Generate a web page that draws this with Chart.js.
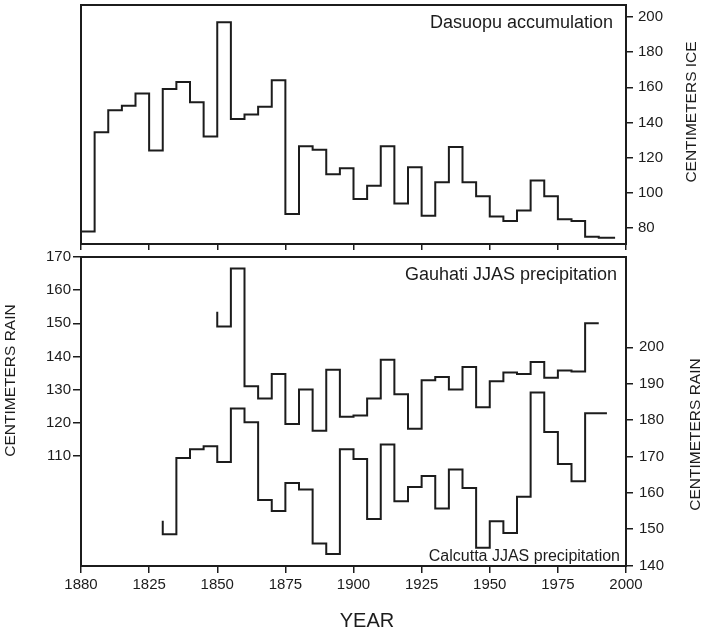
<!DOCTYPE html>
<html>
<head>
<meta charset="utf-8">
<script src="https://cdn.jsdelivr.net/npm/chart.js@4.4.1/dist/chart.umd.min.js"></script>
<style>
  html, body { margin: 0; padding: 0; background: #fff; }
  #wrap { position: relative; width: 703px; height: 632px; }
  #wrap canvas { position: absolute; left: 0; }
  #top { top: 0; }
  #bottom { top: 250px; }
</style>
</head>
<body>
<div id="wrap">
  <canvas id="top" width="703" height="250"></canvas>
  <canvas id="bottom" width="703" height="382"></canvas>
</div>
<script>
'use strict';

// Dasuopu accumulation, 5-year steps (start year of each step, last one closes the line)
var dasuopuYears = [1800, 1805, 1810, 1815, 1820, 1825, 1830, 1835, 1840, 1845,
                    1850, 1855, 1860, 1865, 1870, 1875, 1880, 1885, 1890, 1895,
                    1900, 1905, 1910, 1915, 1920, 1925, 1930, 1935, 1940, 1945,
                    1950, 1955, 1960, 1965, 1970, 1975, 1980, 1985, 1990, 1996];
var dasuopuIce = [78, 134.5, 147, 149.5, 156.5, 124, 159, 163, 151.5, 132,
                  197, 142, 144.5, 149, 164, 88, 126.5, 124.5, 110.5, 114,
                  96.5, 104, 126.5, 94, 114.5, 87, 106, 126, 106, 98,
                  86.5, 84, 90, 107, 98, 85, 84, 75, 74.5, 74.5];

// Gauhati JJAS precipitation (left axis)
var gauhatiYears = [1850, 1850, 1855, 1860, 1865, 1870, 1875, 1880, 1885, 1890,
                    1895, 1900, 1905, 1910, 1915, 1920, 1925, 1930, 1935, 1940,
                    1945, 1950, 1955, 1960, 1965, 1970, 1975, 1980, 1985, 1990];
var gauhatiRain = [153.5, 149, 166.5, 131, 127.3, 134.7, 119.6, 130, 117.6, 136,
                   121.8, 122.2, 127.3, 139, 128.6, 118.2, 132.8, 133.8, 130, 136.8,
                   124.7, 132.5, 135.2, 134.7, 138.3, 133.6, 135.8, 135.5, 150, 150];

// Calcutta JJAS precipitation (right axis)
var calcuttaYears = [1830, 1830, 1835, 1840, 1845, 1850, 1855, 1860, 1865, 1870,
                     1875, 1880, 1885, 1890, 1895, 1900, 1905, 1910, 1915, 1920,
                     1925, 1930, 1935, 1940, 1945, 1950, 1955, 1960, 1965, 1970,
                     1975, 1980, 1985, 1993];
var calcuttaRain = [152.3, 148.6, 169.6, 172, 172.8, 168.5, 183.2, 179.4, 158, 155,
                    162.7, 160.9, 146.1, 143.2, 172, 169.3, 152.8, 173.3, 157.7, 161.6,
                    164.6, 155.7, 166.4, 161.3, 144.9, 152.2, 149, 158.9, 187.6, 176.7,
                    167.9, 163.2, 181.9, 181.9];

var xTickValues = [1800, 1825, 1850, 1875, 1900, 1925, 1950, 1975, 2000];
var xTickLabels = ['1880', '1825', '1850', '1875', '1900', '1925', '1950', '1975', '2000'];
var iceTicks = [80, 100, 120, 140, 160, 180, 200];
var gauhatiTicks = [110, 120, 130, 140, 150, 160, 170];
var calcuttaTicks = [140, 150, 160, 170, 180, 190, 200];

var ink = '#1c1c1c';
var fontFamily = '"Liberation Sans", Arial, Helvetica, sans-serif';
Chart.defaults.font.family = fontFamily;
Chart.defaults.color = ink;

function pairs(xs, ys) {
    return xs.map(function (x, i) { return { x: x, y: ys[i] }; });
}

function setTicks(values) {
    return function (scale) {
        scale.ticks = values.map(function (v) { return { value: v }; });
    };
}

function fixSize(prop, size) {
    return function (scale) {
        scale[prop] = size;
        scale.paddingTop = 0;
        scale.paddingBottom = 0;
        scale.paddingLeft = 0;
        scale.paddingRight = 0;
    };
}

function tickGrid(len) {
    return { drawOnChartArea: false, drawTicks: true, tickLength: len, color: ink, lineWidth: 1.5 };
}

function stepLine(points, axis) {
    return {
        data: points,
        yAxisID: axis,
        stepped: true,
        borderColor: ink,
        borderWidth: 2,
        pointRadius: 0,
        fill: false
    };
}

var framePlugin = {
    id: 'frame',
    afterDatasetsDraw: function (chart) {
        var a = chart.chartArea;
        var ctx = chart.ctx;
        ctx.save();
        ctx.strokeStyle = ink;
        ctx.lineWidth = 2;
        ctx.strokeRect(a.left, a.top, a.right - a.left, a.bottom - a.top);
        ctx.restore();
    }
};

function textPlugin(items) {
    return {
        id: 'texts',
        afterDraw: function (chart) {
            var ctx = chart.ctx;
            items.forEach(function (t) {
                ctx.save();
                ctx.font = t.size + 'px ' + fontFamily;
                ctx.fillStyle = ink;
                ctx.textAlign = t.align || 'center';
                ctx.textBaseline = t.baseline || 'middle';
                ctx.translate(t.x, t.y);
                if (t.rotate) ctx.rotate(-Math.PI / 2);
                ctx.fillText(t.text, 0, 0);
                ctx.restore();
            });
        }
    };
}

var baseOptions = {
    responsive: false,
    animation: false,
    events: [],
    plugins: { legend: { display: false }, tooltip: { enabled: false } }
};

// top panel
new Chart(document.getElementById('top'), {
    type: 'line',
    data: { datasets: [stepLine(pairs(dasuopuYears, dasuopuIce), 'y')] },
    options: Object.assign({}, baseOptions, {
        layout: { padding: { left: 81, top: 5, right: 0, bottom: 0 } },
        scales: {
            x: {
                type: 'linear', min: 1800, max: 2000,
                afterBuildTicks: setTicks(xTickValues),
                afterFit: fixSize('height', 6),
                border: { display: false },
                grid: tickGrid(6),
                ticks: { display: false }
            },
            y: {
                type: 'linear', position: 'right', min: 70.9, max: 206.8,
                afterBuildTicks: setTicks(iceTicks),
                afterFit: fixSize('width', 77),
                border: { display: false },
                grid: tickGrid(7),
                ticks: { font: { size: 15 }, padding: 5 }
            }
        }
    }),
    plugins: [framePlugin, textPlugin([
        { text: 'Dasuopu accumulation', x: 613, y: 28, size: 18, align: 'right', baseline: 'alphabetic' },
        { text: 'CENTIMETERS ICE', x: 692, y: 112, size: 15.5, rotate: true }
    ])]
});

// bottom panel
new Chart(document.getElementById('bottom'), {
    type: 'line',
    data: {
        datasets: [
            stepLine(pairs(gauhatiYears, gauhatiRain), 'yL'),
            stepLine(pairs(calcuttaYears, calcuttaRain), 'yR')
        ]
    },
    options: Object.assign({}, baseOptions, {
        layout: { padding: { left: 0, top: 7, right: 0, bottom: 0 } },
        scales: {
            x: {
                type: 'linear', min: 1800, max: 2000,
                afterBuildTicks: setTicks(xTickValues),
                afterFit: fixSize('height', 66),
                border: { display: false },
                grid: tickGrid(7),
                ticks: {
                    font: { size: 15 }, padding: 3, maxRotation: 0,
                    callback: function (value, index) { return xTickLabels[index]; }
                }
            },
            yL: {
                type: 'linear', position: 'left', min: 76.8, max: 170,
                afterBuildTicks: setTicks(gauhatiTicks),
                afterFit: fixSize('width', 81),
                border: { display: false },
                grid: tickGrid(8),
                ticks: { font: { size: 15 }, padding: 2 }
            },
            yR: {
                type: 'linear', position: 'right', min: 139.9, max: 224.8,
                afterBuildTicks: setTicks(calcuttaTicks),
                afterFit: fixSize('width', 77),
                border: { display: false },
                grid: tickGrid(7),
                ticks: { font: { size: 15 }, padding: 6 }
            }
        }
    }),
    plugins: [framePlugin, textPlugin([
        { text: 'Gauhati JJAS precipitation', x: 617, y: 30, size: 18, align: 'right', baseline: 'alphabetic' },
        { text: 'Calcutta JJAS precipitation', x: 620, y: 311, size: 16, align: 'right', baseline: 'alphabetic' },
        { text: 'CENTIMETERS RAIN', x: 11, y: 130.5, size: 15.5, rotate: true },
        { text: 'CENTIMETERS RAIN', x: 696, y: 184.5, size: 15.5, rotate: true },
        { text: 'YEAR', x: 367, y: 371, size: 20 }
    ])]
});
</script>
</body>
</html>
